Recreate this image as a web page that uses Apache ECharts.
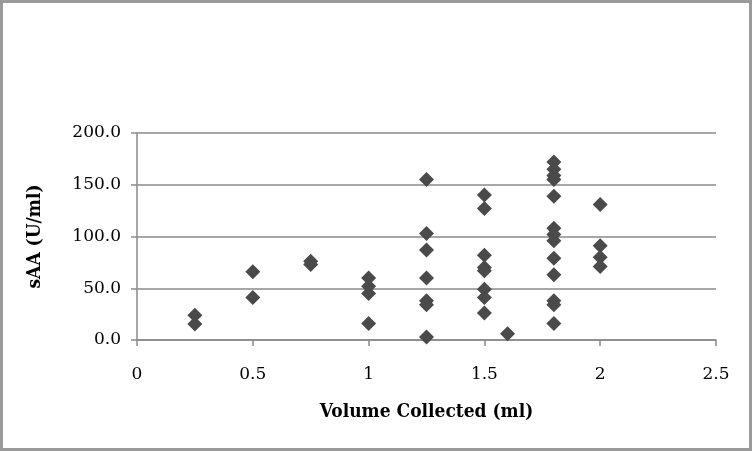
<!DOCTYPE html>
<html>
<head>
<meta charset="utf-8">
<script src="https://cdn.jsdelivr.net/npm/echarts@6/dist/echarts.min.js"></script>
<style>
html,body{margin:0;padding:0;background:#fff;}
#chart{position:absolute;left:0;top:0;width:752px;height:451px;}
#frame{position:absolute;left:0;top:0;width:752px;height:451px;box-sizing:border-box;border:3px solid #9a9a9a;pointer-events:none;}
</style>
</head>
<body>
<div id="chart"></div>
<div id="frame"></div>
<script>
// Volume groups (x) and sAA values (y)
const vol_025 = 0.25, saa_025 = [24, 15.5];
const vol_050 = 0.5,  saa_050 = [66, 41];
const vol_075 = 0.75, saa_075 = [76, 73];
const vol_100 = 1,    saa_100 = [60, 52, 45, 16];
const vol_125 = 1.25, saa_125 = [155, 103, 87, 60, 38, 34, 3];
const vol_150 = 1.5,  saa_150 = [140, 127, 82, 70, 67, 49, 41, 26];
const vol_160 = 1.6,  saa_160 = [6];
const vol_180 = 1.8,  saa_180 = [172, 165, 159, 155, 139, 108, 102, 96, 79, 63, 38, 34, 16];
const vol_200 = 2,    saa_200 = [131, 91, 80, 71];

const xTicks = [0, 0.5, 1, 1.5, 2, 2.5];
const yTicks = [0, 50, 100, 150, 200];

const groups = [
  [vol_025, saa_025], [vol_050, saa_050], [vol_075, saa_075],
  [vol_100, saa_100], [vol_125, saa_125], [vol_150, saa_150],
  [vol_160, saa_160], [vol_180, saa_180], [vol_200, saa_200]
];
const points = [];
groups.forEach(g => g[1].forEach(v => points.push([g[0], v])));

const labelFont = 'DejaVu Serif';
const titleFont = 'DejaVu Serif Condensed, DejaVu Serif';
const chart = echarts.init(document.getElementById('chart'), null, {renderer: 'canvas'});
chart.setOption({
  animation: false,
  backgroundColor: '#ffffff',
  grid: {left: 137, right: 36, top: 133, bottom: 111, containLabel: false},
  xAxis: {
    type: 'value', min: 0, max: 2.5, interval: 0.5,
    name: 'Volume Collected (ml)', nameLocation: 'middle', nameGap: 63,
    nameTextStyle: {fontFamily: titleFont, fontWeight: 'bold', fontSize: 19, color: '#000'},
    axisLine: {show: true, lineStyle: {color: '#8a8a8a', width: 1.5}},
    axisTick: {show: true, length: 6, lineStyle: {color: '#8a8a8a', width: 1.5}},
    axisLabel: {fontFamily: labelFont, fontSize: 17, color: '#000', margin: 26,
      formatter: v => String(xTicks.find(t => Math.abs(t - v) < 1e-9) ?? v)},
    splitLine: {show: false}
  },
  yAxis: {
    type: 'value', min: 0, max: 200, interval: 50,
    name: 'sAA (U/ml)', nameLocation: 'middle', nameGap: 92, nameRotate: 90,
    nameTextStyle: {fontFamily: titleFont, fontWeight: 'bold', fontSize: 19, color: '#000'},
    axisLine: {show: true, lineStyle: {color: '#8a8a8a', width: 1.5}},
    axisTick: {show: true, length: 6, lineStyle: {color: '#8a8a8a', width: 1.5}},
    axisLabel: {fontFamily: labelFont, fontSize: 17, color: '#000', margin: 16,
      formatter: v => Number(yTicks.find(t => t === v) ?? v).toFixed(1)},
    splitLine: {show: true, lineStyle: {color: '#8a8a8a', width: 1.5}}
  },
  series: [{
    type: 'scatter',
    data: points,
    symbol: 'diamond',
    symbolSize: 15,
    itemStyle: {color: '#4a4a4a', opacity: 1}
  }]
});
</script>
</body>
</html>
